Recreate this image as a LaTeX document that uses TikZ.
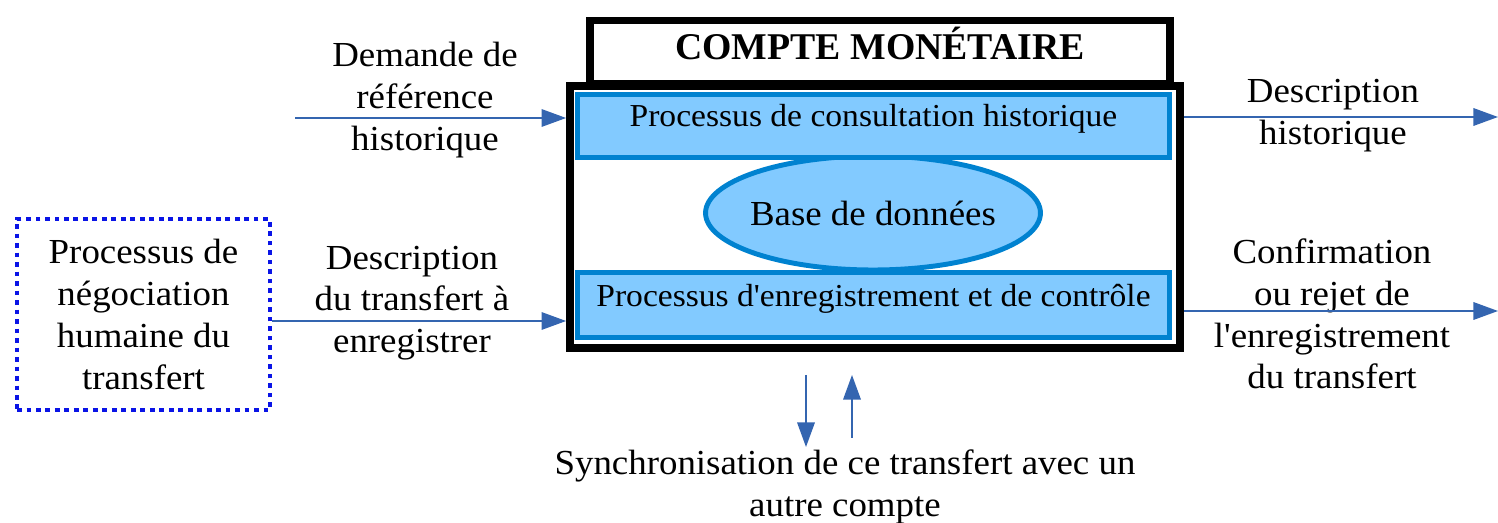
\documentclass[tikz,border=0pt]{standalone}
\usepackage{fontspec}
\setmainfont{Liberation Serif}[FakeStretch=1.05, Ligatures=TeXOff]
\newfontfamily\titrefont{Liberation Serif}
\usetikzlibrary{arrows.meta, shapes.geometric}

\definecolor{bordbleu}{RGB}{0,130,208}
\definecolor{fondbleu}{RGB}{130,202,255}
\definecolor{fleche}{RGB}{52,101,176}
\definecolor{pointbleu}{RGB}{10,20,230}

\tikzset{
	lbl/.style = {align = center, inner sep = 0, font = \fontsize{20pt}{23.8pt}\selectfont},
	proc/.style = {draw = bordbleu, fill = fondbleu, line width = 2.8pt, minimum width = 11.84cm, inner xsep = 0, inner ysep = 0, font = \fontsize{18.2pt}{20pt}\selectfont},
	flux/.style = {draw = fleche, line width = 0.9pt, -{Triangle[length = 14pt, width = 10pt]}}
}

\begin{document}
\begin{tikzpicture}[x = 0.02cm, y = -0.02cm]
					\useasboundingbox (0, 0) rectangle (1498, 523);

					\node [draw, line width = 4.5pt, minimum width = 11.6cm, inner ysep = 0, text height = 0.78cm, text depth = 0.48cm, font = \titrefont\bfseries\fontsize{21.5pt}{24pt}\selectfont] (titre) at (880, 52) {COMPTE MONÉTAIRE};
					\node [draw, line width = 4.5pt, minimum width = 12.2cm, minimum height = 5.24cm] (compte) at (875, 217) {};

					\node [ellipse, draw = bordbleu, fill = fondbleu, line width = 2.8pt, minimum width = 6.7cm, minimum height = 2.28cm, inner xsep = -1cm, inner ysep = 0, font = \fontsize{20pt}{23.8pt}\selectfont] (base) at (873, 213) {Base de données};
					\node [proc, text height = 0.65cm, text depth = 0.61cm] (consult) at (873.5, 126) {Processus de consultation historique};
					\node [proc, text height = 0.69cm, text depth = 0.61cm] (enreg) at (873.5, 305) {Processus d'enregistrement et de contrôle};

					\node [draw = pointbleu, line width = 2.7pt, dash pattern = on 2.7pt off 2.7pt, minimum width = 5.06cm, minimum height = 3.82cm, lbl] (humain) at (143.5, 314.5) {Processus de\\négociation\\humaine du\\transfert};

					\node [lbl] (demande) at (425, 100) {Demande de\\référence\\historique};
					\node [lbl] (descr) at (412, 303) {Description\\du transfert à\\enregistrer};
					\node [lbl] (histo) at (1333, 116) {Description\\historique};
					\node [lbl] (confirm) at (1332, 314) {Confirmation\\ou rejet de\\l'enregistrement\\du transfert};
					\node [lbl] (synchro) at (845, 487) {Synchronisation de ce transfert avec un\\autre compte};

					\coordinate (demsrc) at (295, 118);
					\coordinate (trfy) at (0, 321);
					\coordinate (histfin) at (1498, 117);
					\coordinate (conffin) at (1498, 311);
					\coordinate (versh) at (806, 375);
					\coordinate (versb) at (806, 447);
					\coordinate (retb) at (852, 438);
					\coordinate (reth) at (852, 375);

					\draw [flux] (demsrc) to (demsrc -| compte.west);
					\draw [flux] (humain.east |- trfy) to (compte.west |- trfy);
					\draw [flux] (compte.east |- histfin) to (histfin);
					\draw [flux] (compte.east |- conffin) to (conffin);
					\draw [flux] (versh) to (versb);
					\draw [flux] (retb) to (reth);
				\end{tikzpicture}
\end{document}
